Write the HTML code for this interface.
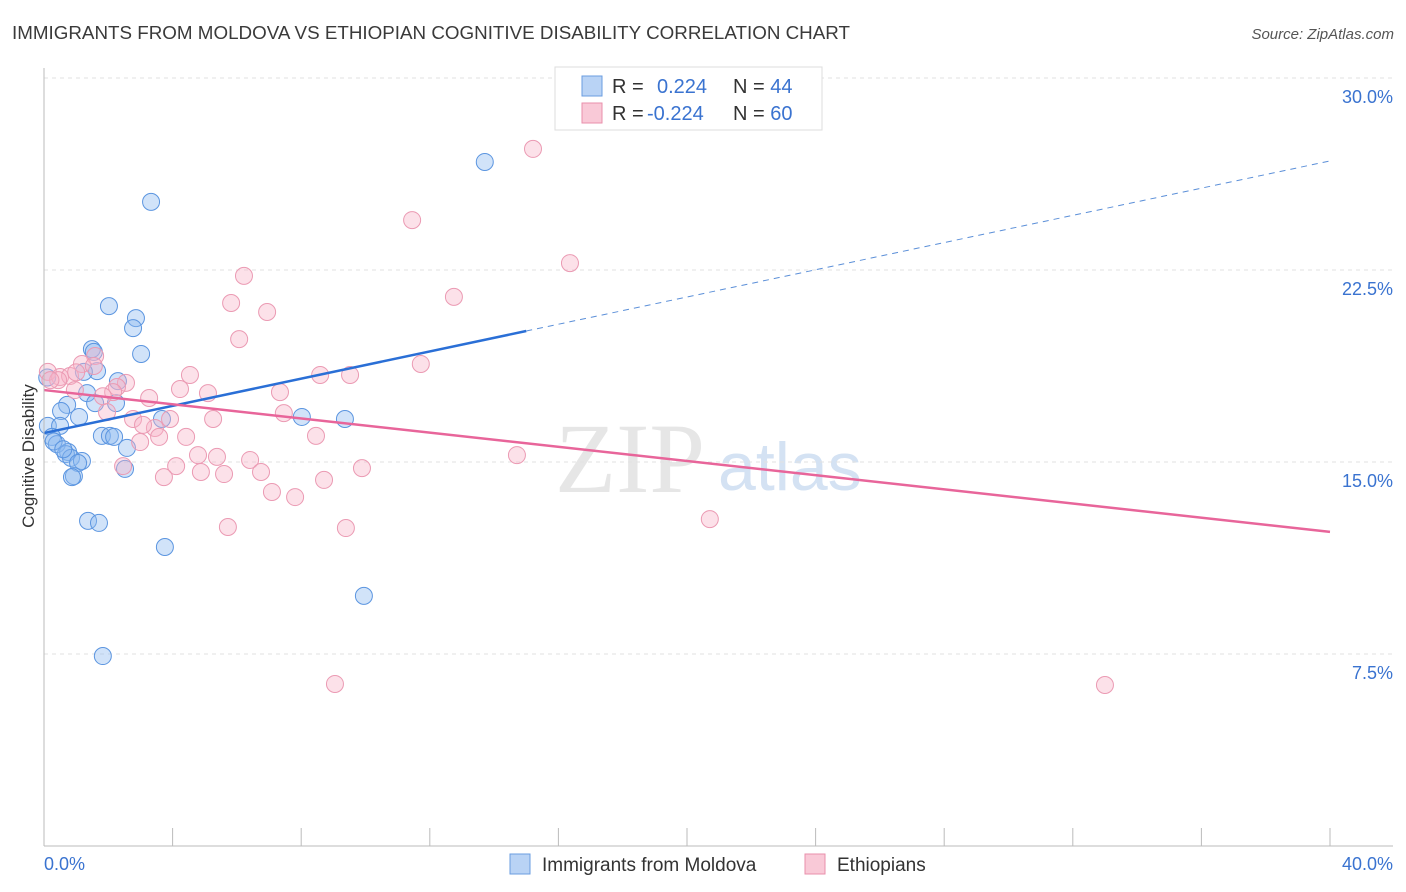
<!DOCTYPE html>
<html><head><meta charset="utf-8"><style>
body{margin:0;background:#fff;font-family:"Liberation Sans",sans-serif}
svg{display:block}
</style></head><body>
<svg id="c" width="1406" height="892">
<text x="12" y="39" font-size="18" fill="#3a3a3a" textLength="838" lengthAdjust="spacingAndGlyphs">IMMIGRANTS FROM MOLDOVA VS ETHIOPIAN COGNITIVE DISABILITY CORRELATION CHART</text>
<text x="1394" y="39" font-size="15" fill="#555" font-style="italic" text-anchor="end">Source: ZipAtlas.com</text>
<text x="555" y="492" font-size="100" fill="#e6e6e6" font-family="Liberation Serif,serif">ZIP</text>
<text x="718" y="490" font-size="68" fill="#d4e2f3">atlas</text>
<g id="grid"></g><g id="pts"></g><g id="lines"></g>
<line x1="44" y1="68" x2="44" y2="846" stroke="#bbb"/>
<line x1="44" y1="846" x2="1393" y2="846" stroke="#bbb"/>
<text x="44" y="870" font-size="18" fill="#3a73d0">0.0%</text>
<text x="1393" y="870" font-size="18" fill="#3a73d0" text-anchor="end">40.0%</text>
<text transform="translate(34,456) rotate(-90)" font-size="17" fill="#333" text-anchor="middle">Cognitive Disability</text>
<g>
<rect x="555" y="67" width="267" height="63" fill="#fff" stroke="#ddd"/>
<rect x="582" y="76" width="20" height="20" fill="#b9d3f5" stroke="#6a9de0"/>
<rect x="582" y="103" width="20" height="20" fill="#f9c9d7" stroke="#e98fab"/>
<text x="612" y="93" font-size="20" fill="#333">R = <tspan fill="#3a73d0" x="657">0.224</tspan><tspan x="733">N = </tspan><tspan fill="#3a73d0">44</tspan></text>
<text x="612" y="120" font-size="20" fill="#333">R = <tspan fill="#3a73d0" x="647">-0.224</tspan><tspan x="733">N = </tspan><tspan fill="#3a73d0">60</tspan></text>
</g>
<g>
<rect x="510" y="854" width="20" height="20" fill="#b9d3f5" stroke="#6a9de0"/>
<text x="542" y="871" font-size="19" fill="#333">Immigrants from Moldova</text>
<rect x="805" y="854" width="20" height="20" fill="#f9c9d7" stroke="#e98fab"/>
<text x="837" y="871" font-size="19" fill="#333">Ethiopians</text>
</g>
</svg>
<script>
const yTicks=[7.5,15,22.5,30];
const yTickLabels=["7.5%","15.0%","22.5%","30.0%"];
const xTicks=[0,4,8,12,16,20,24,28,32,36,40];
const blueX=[13.71,3.33,2.02,2.86,2.77,3.02,1.49,1.55,1.65,1.24,2.30,1.34,1.59,2.24,0.72,0.53,1.09,8.02,9.36,3.67,0.12,0.50,0.25,0.40,1.80,2.05,2.18,2.58,0.75,0.68,0.84,1.18,1.06,0.93,2.52,1.37,1.71,3.76,9.95,1.83,0.87,0.3,0.1,0.6];
const blueY=[26.72,25.16,21.09,20.62,20.23,19.22,19.41,19.30,18.55,18.52,18.16,17.69,17.30,17.30,17.23,16.99,16.76,16.76,16.68,16.68,16.41,16.41,15.98,15.70,16.02,16.02,15.98,15.55,15.39,15.31,15.16,15.04,14.96,14.45,14.73,12.70,12.62,11.68,9.77,7.42,14.41,15.8,18.3,15.5];
const pinkX=[15.21,11.45,16.36,6.22,12.75,5.82,6.94,6.07,1.59,1.18,11.72,4.54,8.59,9.52,0.12,0.50,0.81,0.44,2.55,2.27,4.23,0.96,2.15,7.34,5.10,3.27,1.83,1.96,7.46,2.77,3.92,5.26,3.45,3.08,8.46,4.42,3.58,2.99,4.79,5.38,6.41,14.71,4.11,9.89,2.46,4.88,6.75,5.60,3.73,8.71,7.09,7.81,20.71,5.72,9.39,9.05,33.0,1.55,0.2,1.0];
const pinkY=[27.23,24.45,22.77,22.27,21.45,21.21,20.86,19.80,19.14,18.83,18.83,18.40,18.40,18.40,18.52,18.32,18.36,18.20,18.09,17.93,17.85,17.81,17.73,17.73,17.69,17.50,17.57,16.95,16.91,16.68,16.68,16.68,16.33,16.45,16.02,15.98,15.98,15.78,15.27,15.20,15.08,15.27,14.84,14.76,14.84,14.61,14.61,14.53,14.41,14.30,13.83,13.63,12.77,12.46,12.42,6.33,6.29,18.75,18.2,18.5];
const blueTrend=[16.13,26.76];
const pinkTrend=[17.81,12.27];
const NS="http://www.w3.org/2000/svg";
const sx=v=>44+v/40*1286, sy=v=>846-v/7.5*192;
function mk(t,a,p){const e=document.createElementNS(NS,t);for(const k in a)e.setAttribute(k,a[k]);document.getElementById(p).appendChild(e);return e;}
yTicks.forEach((t,i)=>{
 const l=mk('line',{x1:44,x2:1393,y1:sy(t),y2:sy(t),stroke:'#e2e2e2','stroke-dasharray':'4,4'},'grid');
 
 
 const tx=mk('text',{x:1393,y:sy(t)+25,'font-size':18,fill:'#3a73d0','text-anchor':'end'},'grid');
 tx.textContent=yTickLabels[i];
 
 
});
xTicks.forEach(t=>{
 const l=mk('line',{x1:sx(t),x2:sx(t),y1:828,y2:846,stroke:'#bbb'},'grid');
 
 
});
blueX.forEach((x,i)=>{
 const c=mk('circle',{cx:sx(x),cy:sy(blueY[i]),r:8.5,fill:'rgba(140,185,240,0.4)',stroke:'#5b95e0','stroke-width':1},'pts');
 
 
});
pinkX.forEach((x,i)=>{
 const c=mk('circle',{cx:sx(x),cy:sy(pinkY[i]),r:8.5,fill:'rgba(248,180,200,0.4)',stroke:'#eb9ab3','stroke-width':1},'pts');
 
 
});
const bAt=x=>blueTrend[0]+(blueTrend[1]-blueTrend[0])*x/40;
const b1=mk('line',{x1:sx(0),y1:sy(bAt(0)),x2:sx(15.0),y2:sy(bAt(15.0)),stroke:'#2a6fd6','stroke-width':2.5},'lines');


const b2=mk('line',{x1:sx(15.0),y1:sy(bAt(15.0)),x2:sx(40),y2:sy(bAt(40)),stroke:'#5b8fd8','stroke-width':1,'stroke-dasharray':'6,5'},'lines');


const p1=mk('line',{x1:sx(0),y1:sy(pinkTrend[0]),x2:sx(40),y2:sy(pinkTrend[1]),stroke:'#e8659a','stroke-width':2.5},'lines');


</script>
</body></html>
